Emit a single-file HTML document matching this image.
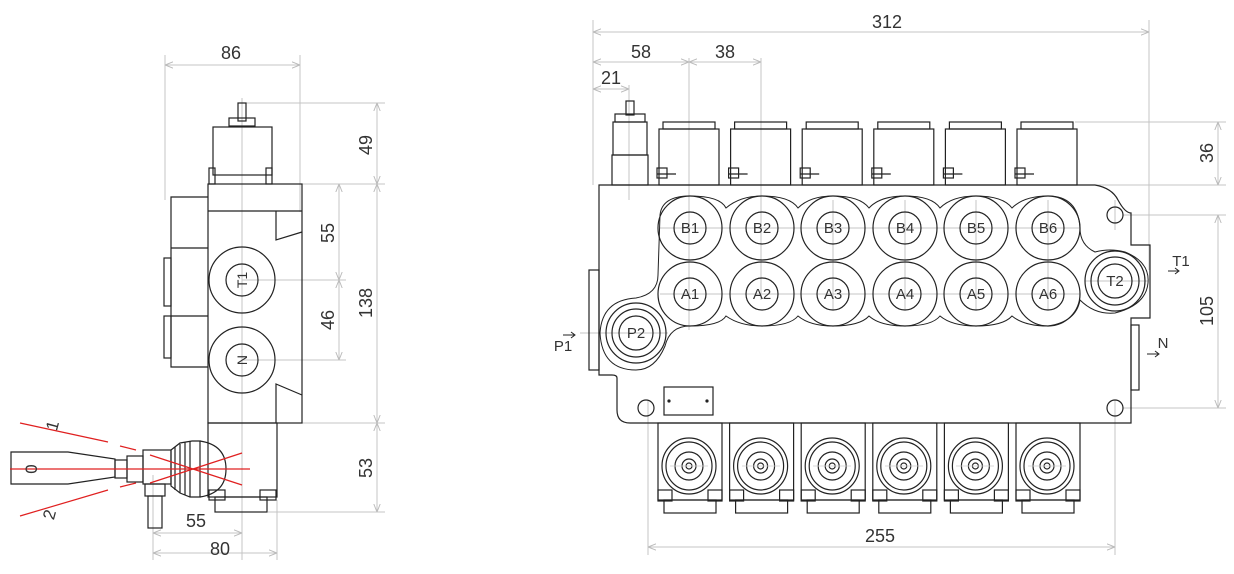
<!DOCTYPE html>
<html><head><meta charset="utf-8"><style>
html,body{margin:0;padding:0;background:#fff;}
svg{display:block;}
text{font-family:"Liberation Sans",sans-serif;fill:#333;}
</style></head><body>
<svg width="1234" height="574" viewBox="0 0 1234 574" xmlns="http://www.w3.org/2000/svg">
<defs>
<marker id="a" viewBox="0 0 10 10" refX="10" refY="5" markerWidth="8" markerHeight="8" orient="auto-start-reverse"><path d="M0,1 L10,5 L0,9" fill="none" stroke="#bbb" stroke-width="1.2"/></marker>
</defs>
<g stroke="#c4c4c4" stroke-width="1" fill="none">
<line x1="165" y1="55" x2="165" y2="200"/><line x1="300" y1="55" x2="300" y2="212"/>
<line x1="165" y1="65" x2="300" y2="65" marker-start="url(#a)" marker-end="url(#a)"/>
<line x1="245" y1="103" x2="385" y2="103"/><line x1="302" y1="184" x2="385" y2="184"/>
<line x1="302" y1="423" x2="385" y2="423"/><line x1="268" y1="512" x2="385" y2="512"/>
<line x1="377" y1="103" x2="377" y2="184" marker-start="url(#a)" marker-end="url(#a)"/>
<line x1="377" y1="184" x2="377" y2="423" marker-start="url(#a)" marker-end="url(#a)"/>
<line x1="377" y1="423" x2="377" y2="512" marker-start="url(#a)" marker-end="url(#a)"/>
<line x1="242" y1="280" x2="346" y2="280"/><line x1="242" y1="360" x2="346" y2="360"/>
<line x1="339" y1="184" x2="339" y2="280" marker-start="url(#a)" marker-end="url(#a)"/>
<line x1="339" y1="280" x2="339" y2="360" marker-start="url(#a)" marker-end="url(#a)"/>
<line x1="242" y1="98" x2="242" y2="560"/>
<line x1="153" y1="475" x2="153" y2="560"/><line x1="277" y1="500" x2="277" y2="560"/>
<line x1="153" y1="533" x2="242" y2="533" marker-start="url(#a)" marker-end="url(#a)"/>
<line x1="153" y1="553" x2="277" y2="553" marker-start="url(#a)" marker-end="url(#a)"/>
<line x1="593" y1="20" x2="593" y2="185"/><line x1="1149" y1="20" x2="1149" y2="270"/>
<line x1="593" y1="32" x2="1149" y2="32" marker-start="url(#a)" marker-end="url(#a)"/>
<line x1="593" y1="62" x2="689" y2="62" marker-start="url(#a)" marker-end="url(#a)"/>
<line x1="689" y1="62" x2="761" y2="62" marker-start="url(#a)" marker-end="url(#a)"/>
<line x1="593" y1="89" x2="629" y2="89" marker-start="url(#a)" marker-end="url(#a)"/>
<line x1="689" y1="58" x2="689" y2="330"/><line x1="761" y1="58" x2="761" y2="300"/>
<line x1="629" y1="85" x2="629" y2="200"/>
<line x1="1075" y1="122" x2="1226" y2="122"/><line x1="1095" y1="185" x2="1226" y2="185"/>
<line x1="1218" y1="122" x2="1218" y2="185" marker-start="url(#a)" marker-end="url(#a)"/>
<line x1="1123" y1="215" x2="1226" y2="215"/><line x1="1123" y1="408" x2="1226" y2="408"/>
<line x1="1218" y1="215" x2="1218" y2="408" marker-start="url(#a)" marker-end="url(#a)"/>
<line x1="648" y1="400" x2="648" y2="555"/><line x1="1115" y1="400" x2="1115" y2="555"/>
<line x1="648" y1="547" x2="1115" y2="547" marker-start="url(#a)" marker-end="url(#a)"/>
<line x1="1115" y1="200" x2="1115" y2="230"/>
<line x1="833" y1="200" x2="833" y2="310"/><line x1="905" y1="200" x2="905" y2="310"/>
<line x1="976" y1="200" x2="976" y2="310"/><line x1="1048" y1="200" x2="1048" y2="310"/>
<line x1="660" y1="228" x2="1080" y2="228"/><line x1="660" y1="294" x2="1080" y2="294"/>
<line x1="580" y1="333" x2="668" y2="333"/>
<line x1="1085" y1="281" x2="1148" y2="281"/>
</g>
<g font-size="18" text-anchor="middle">
<text x="231" y="59">86</text>
<text x="372" y="145" transform="rotate(-90 372 145)">49</text>
<text x="334" y="233" transform="rotate(-90 334 233)">55</text>
<text x="334" y="320" transform="rotate(-90 334 320)">46</text>
<text x="372" y="303" transform="rotate(-90 372 303)">138</text>
<text x="372" y="468" transform="rotate(-90 372 468)">53</text>
<text x="196" y="527">55</text><text x="220" y="555">80</text>
<text x="887" y="28">312</text><text x="641" y="58">58</text><text x="725" y="58">38</text>
<text x="611" y="84">21</text>
<text x="1213" y="153" transform="rotate(-90 1213 153)">36</text>
<text x="1213" y="311" transform="rotate(-90 1213 311)">105</text>
<text x="880" y="542">255</text>
</g>
<g stroke="#222" stroke-width="1.2" fill="none">
<rect x="238" y="103" width="8" height="18"/>
<rect x="229" y="118" width="26" height="8"/>
<rect x="213" y="127" width="59" height="48"/>
<rect x="209" y="168" width="6" height="16"/><rect x="266" y="168" width="6" height="16"/>
<rect x="208" y="184" width="94" height="239"/>
<line x1="208" y1="211" x2="302" y2="211"/>
<path d="M208,197 H171 V367 H208"/>
<line x1="171" y1="248" x2="208" y2="248"/><line x1="171" y1="316" x2="208" y2="316"/>
<rect x="164" y="258" width="7" height="48"/><rect x="164" y="316" width="7" height="42"/>
<path d="M276,211 V240 L302,232"/><path d="M276,423 V384 L302,395"/>
<circle cx="242" cy="280" r="33"/><circle cx="242" cy="280" r="16"/>
<circle cx="242" cy="360" r="33"/><circle cx="242" cy="360" r="16"/>
<rect x="208" y="423" width="69" height="74"/>
<rect x="215" y="497" width="52" height="15"/>
<rect x="209" y="490" width="16" height="10"/><rect x="260" y="490" width="16" height="10"/>
<path d="M11,452 H68 L115,459 V477 L68,484 H11 Z"/>
<rect x="115" y="460" width="12" height="18"/>
<rect x="127" y="456" width="16" height="26"/>
<rect x="143" y="450" width="28" height="34"/>
<rect x="145" y="484" width="20" height="12"/>
<rect x="148" y="496" width="14" height="32"/>
<path d="M171,450 L180,443 L192,441 L200,441 L200,497 L190,497 L180,493 L171,486 Z"/>
<path d="M200,441 Q226,445 226,469 Q226,493 200,497"/>
<line x1="175" y1="447" x2="175" y2="490"/><line x1="180" y1="444" x2="180" y2="493"/>
<line x1="185" y1="442" x2="185" y2="495"/><line x1="190" y1="441" x2="190" y2="497"/>
</g>
<g stroke="#e02020" stroke-width="1.2">
<line x1="10" y1="469" x2="250" y2="469"/>
<line x1="20" y1="423" x2="108" y2="442"/><line x1="120" y1="446" x2="136" y2="450"/>
<line x1="20" y1="516" x2="108" y2="490"/><line x1="120" y1="487" x2="136" y2="483"/>
<line x1="150" y1="455" x2="242" y2="485"/><line x1="150" y1="483" x2="242" y2="453"/>
</g>
<g font-size="17" text-anchor="middle">
<text x="32" y="469" transform="rotate(-90 32 469)" dy="5">0</text>
<text x="58" y="427" transform="rotate(-75 58 427)">1</text>
<text x="55" y="516" transform="rotate(-75 55 516)">2</text>
<text x="242" y="285" transform="rotate(-90 242 280)" font-size="14">T1</text>
<text x="242" y="365" transform="rotate(-90 242 360)" font-size="14">N</text>
</g>
<g stroke="#222" stroke-width="1.2" fill="none">
<path d="M599,185 H1095 Q1112,188 1118,200 Q1125,213 1131,213 V245 H1150 V318 H1131 V423 H630 Q617,423 617,410 V378 Q617,375 612,375 H599 Z"/>
<rect x="589" y="270" width="10" height="100"/>
<rect x="1131" y="325" width="8" height="65"/>
<path d="M660,215 Q662,196 690,196 Q720,196 726,208 Q740,196 762,196 Q790,196 798,208 Q810,196 833,196 Q860,196 869,208 Q880,196 905,196 Q932,196 940,208 Q952,196 976,196 Q1003,196 1012,208 Q1024,196 1048,196 Q1078,196 1080,228 Q1080,245 1095,252 Q1110,248 1125,252 Q1150,262 1148,283 Q1146,305 1115,313 Q1095,315 1080,300 Q1076,322 1048,326 Q1024,326 1012,316 Q1003,326 976,326 Q952,326 940,316 Q932,326 905,326 Q880,326 869,316 Q860,326 833,326 Q810,326 798,316 Q790,326 762,326 Q740,326 726,316 Q720,326 690,326 Q670,326 665,346 Q655,370 636,370 Q602,370 600,333 Q602,300 636,298 Q658,294 658,275 Z" stroke-width="1"/>
<g id="p">
<circle cx="690" cy="228" r="32"/><circle cx="690" cy="228" r="16"/>
<circle cx="690" cy="294" r="32"/><circle cx="690" cy="294" r="16"/>
</g>
<use href="#p" x="72"/><use href="#p" x="143"/><use href="#p" x="215"/><use href="#p" x="286"/><use href="#p" x="358"/>
<circle cx="1115" cy="281" r="30"/><circle cx="1115" cy="281" r="24"/><circle cx="1115" cy="281" r="17"/>
<circle cx="636" cy="333" r="30"/><circle cx="636" cy="333" r="24"/><circle cx="636" cy="333" r="17"/>
<circle cx="1115" cy="215" r="8"/><circle cx="646" cy="408" r="8"/><circle cx="1115" cy="408" r="8"/>
<rect x="664" y="387" width="49" height="28"/>
<circle cx="669" cy="401" r="1" fill="#222"/><circle cx="707" cy="401" r="1" fill="#222"/>
<rect x="626" y="101" width="8" height="14"/>
<rect x="615" y="114" width="30" height="8"/>
<rect x="613" y="122" width="34" height="33"/>
<rect x="612" y="155" width="36" height="30"/>
<g id="s">
<rect x="663" y="122" width="52" height="7"/>
<rect x="659" y="129" width="60" height="56"/>
<rect x="657" y="168" width="10" height="10"/>
<line x1="657" y1="174" x2="676" y2="174"/>
<rect x="658" y="423" width="64" height="77"/>
<ellipse cx="689" cy="466" rx="27" ry="28"/><ellipse cx="689" cy="466" rx="23" ry="24"/>
<circle cx="689" cy="466" r="14"/><circle cx="689" cy="466" r="7"/><circle cx="689" cy="466" r="3"/>
<rect x="664" y="500" width="52" height="13"/>
<rect x="658" y="490" width="14" height="11"/><rect x="708" y="490" width="14" height="11"/>
</g>
<use href="#s" x="71.6"/><use href="#s" x="143.2"/><use href="#s" x="214.8"/><use href="#s" x="286.4"/><use href="#s" x="358"/>
</g>
<g stroke="#ccc" stroke-width="0.8">
<line x1="670" y1="466" x2="708" y2="466"/><line x1="742" y1="466" x2="780" y2="466"/><line x1="813" y1="466" x2="851" y2="466"/>
<line x1="885" y1="466" x2="923" y2="466"/><line x1="956" y1="466" x2="994" y2="466"/><line x1="1028" y1="466" x2="1066" y2="466"/>
</g>
<g font-size="15" text-anchor="middle">
<text x="690" y="233">B1</text><text x="762" y="233">B2</text><text x="833" y="233">B3</text>
<text x="905" y="233">B4</text><text x="976" y="233">B5</text><text x="1048" y="233">B6</text>
<text x="690" y="299">A1</text><text x="762" y="299">A2</text><text x="833" y="299">A3</text>
<text x="905" y="299">A4</text><text x="976" y="299">A5</text><text x="1048" y="299">A6</text>
<text x="1115" y="286">T2</text><text x="636" y="338">P2</text>
<text x="1181" y="266">T1</text><text x="1163" y="348">N</text><text x="563" y="351">P1</text>
</g>
<g stroke="#222" stroke-width="1">
<line x1="1168" y1="271" x2="1178" y2="271"/><path d="M1175,268 L1179,271 L1175,274" fill="none"/>
<line x1="1147" y1="354" x2="1158" y2="354"/><path d="M1155,351 L1159,354 L1155,357" fill="none"/>
<line x1="563" y1="335" x2="574" y2="335"/><path d="M571,332 L575,335 L571,338" fill="none"/>
</g>
</svg>
</body></html>
